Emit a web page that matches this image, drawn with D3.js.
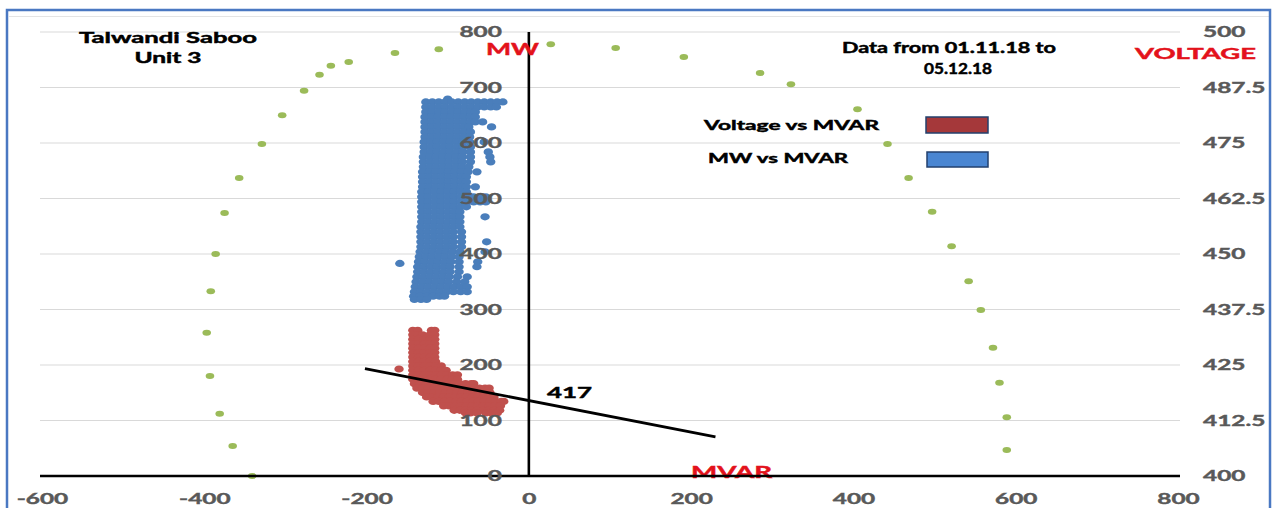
<!DOCTYPE html>
<html>
<head>
<meta charset="utf-8">
<script src="https://cdn.jsdelivr.net/npm/d3@7"></script>
<style>
  html, body { margin: 0; padding: 0; background: #ffffff; }
  svg { display: block; font-family: Lato, "Liberation Sans", sans-serif; }
</style>
</head>
<body>
<svg id="chart" width="1279" height="508"></svg>
<script>
// ---- axis ticks ----
const mvarTicks = [-600, -400, -200, 0, 200, 400, 600, 800];
const mwTicks = [0, 100, 200, 300, 400, 500, 600, 700, 800];
const voltTicks = [400, 412.5, 425, 437.5, 450, 462.5, 475, 487.5, 500];

// ---- generator capability limit (MVAR, MW) ----
const capabilityCurve = [
  [-111, 769], [-165, 762], [-222, 746], [-244, 739], [-258, 723], [-277, 694],
  [-304, 650], [-329, 598], [-357, 537], [-375, 474], [-386, 400], [-392, 333],
  [-397, 258], [-393, 180], [-381, 112], [-365, 54], [-341, 0],
  [27, 778], [107, 771], [191, 755], [285, 726], [323, 706], [405, 661],
  [442, 598], [468, 537], [497, 476], [521, 414], [542, 351], [557, 299],
  [572, 231], [580, 168], [589, 106], [589, 47]
];

// ---- MW vs MVAR samples, grouped by MW: [MW, [MVAR, ...]] ----
const mwVsMvarRows = [
  [679, [-100]],
  [674, [-127, -119, -111, -103, -95, -87, -79, -71, -63, -55, -47, -39, -32]],
  [665, [-127, -119, -111, -103, -95, -87, -79, -71, -63, -55, -47, -40]],
  [656, [-127, -119, -111, -103, -95, -87, -79, -71, -66]],
  [647, [-128, -120, -112, -104, -96, -88, -80, -72, -66]],
  [638, [-128, -120, -112, -104, -96, -88, -80, -72, -66, -57]],
  [629, [-128, -120, -112, -104, -96, -88, -80, -74, -46]],
  [620, [-128, -120, -112, -104, -96, -88, -80, -72]],
  [611, [-128, -120, -112, -104, -96, -88, -80, -73]],
  [602, [-129, -121, -113, -105, -97, -89, -81, -73, -55]],
  [593, [-129, -121, -113, -105, -97, -89, -81, -72]],
  [584, [-129, -121, -113, -105, -97, -89, -81, -72, -50]],
  [575, [-130, -122, -114, -106, -98, -90, -82, -72, -48]],
  [566, [-130, -122, -114, -106, -98, -90, -82, -72, -47]],
  [557, [-130, -122, -114, -106, -98, -90, -82, -74]],
  [548, [-131, -123, -115, -107, -99, -91, -83, -75, -64]],
  [539, [-131, -123, -115, -107, -99, -91, -83, -77]],
  [530, [-131, -123, -115, -107, -99, -91, -83, -77]],
  [521, [-131, -123, -115, -107, -99, -91, -83, -77, -66]],
  [512, [-132, -124, -116, -108, -100, -92, -84, -77]],
  [503, [-132, -124, -116, -108, -100, -92, -84, -76, -68, -60, -53]],
  [494, [-132, -124, -116, -108, -100, -92, -84, -76, -68, -60, -53]],
  [485, [-132, -124, -116, -108, -100, -92, -84, -77]],
  [476, [-132, -124, -116, -108, -100, -92, -85]],
  [467, [-132, -124, -116, -108, -100, -92, -85, -54]],
  [458, [-132, -124, -116, -108, -100, -92, -85]],
  [449, [-133, -125, -117, -109, -101, -93, -85]],
  [440, [-133, -125, -117, -109, -101, -93, -83]],
  [431, [-133, -125, -117, -109, -101, -93, -83]],
  [422, [-133, -125, -117, -109, -101, -93, -83, -52]],
  [413, [-133, -125, -117, -109, -101, -93, -83]],
  [404, [-134, -126, -118, -110, -102, -94, -85, -54]],
  [395, [-135, -127, -119, -111, -103, -95, -86]],
  [386, [-136, -128, -120, -112, -104, -96, -86, -63]],
  [383, [-159]],
  [377, [-137, -129, -121, -113, -105, -97, -86, -64]],
  [368, [-137, -129, -121, -113, -105, -97, -86]],
  [359, [-138, -130, -122, -114, -106, -98, -88, -76]],
  [350, [-139, -131, -123, -115, -107, -99, -89, -79]],
  [341, [-140, -132, -124, -116, -108, -100, -92, -84, -76]],
  [332, [-141, -133, -125, -117, -109, -101, -93, -84, -76]],
  [324, [-142, -134, -126, -118, -110, -104]],
  [318, [-141, -133, -126]]
];

// ---- Voltage vs MVAR samples, grouped by kV: [kV, [MVAR, ...]] ----
const voltVsMvarRows = [
  [432.8, [-143, -137, -120, -116]],
  [431.8, [-143, -137, -131, -122, -116]],
  [430.8, [-143, -136, -129, -122, -116]],
  [429.8, [-143, -136, -129, -122, -116]],
  [428.8, [-143, -136, -129, -122, -116]],
  [427.8, [-143, -136, -129, -122, -116]],
  [426.8, [-143, -136, -129, -122, -116]],
  [425.8, [-143, -136, -129, -122, -115]],
  [424.8, [-143, -136, -129, -122, -115, -108]],
  [424.1, [-160]],
  [423.8, [-143, -136, -129, -122, -115, -108, -102]],
  [422.8, [-143, -136, -129, -122, -115, -108, -101, -94, -88]],
  [421.8, [-143, -136, -129, -122, -115, -108, -101, -94, -88]],
  [420.8, [-141, -134, -127, -120, -113, -106, -99, -92, -85, -78, -71, -68]],
  [419.8, [-138, -131, -124, -117, -110, -103, -96, -89, -82, -75, -68, -61, -54, -49]],
  [418.8, [-131, -124, -117, -110, -103, -96, -89, -82, -75, -68, -61, -54, -48]],
  [417.8, [-126, -119, -112, -105, -98, -91, -84, -77, -70, -63, -56, -49, -43]],
  [416.8, [-118, -111, -104, -97, -90, -83, -76, -69, -62, -55, -48, -41, -34, -31]],
  [415.8, [-105, -98, -91, -84, -77, -70, -63, -56, -49, -42, -35]],
  [414.8, [-92, -85, -78, -71, -64, -57, -50, -43, -36]],
  [414.2, [-78, -72, -64, -53, -46, -39]]
];

// ---- trend of voltage against MVAR ----
const trendLine = [[-202, 424.2], [230, 408.8]];
const trendLabel = "417";

const W = 1279, H = 508;
const svg = d3.select("#chart");

const x = d3.scaleLinear().domain([-600, 800]).range([42, 1178]);
const yMW = d3.scaleLinear().domain([0, 800]).range([476, 32]);
const yV = d3.scaleLinear().domain([400, 500]).range([476, 32]);

const SX = 1.68; // horizontal stretch of the lettering
const GRAY = "#595959", RED_TXT = "#e3121b";

function widen(sel) {
  sel.each(function () {
    const w = this.getComputedTextLength();
    this.setAttribute("textLength", w * SX);
    this.setAttribute("lengthAdjust", "spacingAndGlyphs");
  });
}

// frame
svg.append("rect").attr("width", W).attr("height", H).attr("fill", "#ffffff");
svg.append("line").attr("x1", 9).attr("x2", 1269).attr("y1", 16.5).attr("y2", 16.5)
  .attr("stroke", "#e4e4e4").attr("stroke-width", 1);
svg.append("rect").attr("x", 7).attr("y", 10).attr("width", 1263).attr("height", 520)
  .attr("fill", "none").attr("stroke", "#4a78c2").attr("stroke-width", 2.5);

// horizontal gridlines
svg.append("g").selectAll("line").data(mwTicks.filter(d => d > 0)).join("line")
  .attr("x1", 40).attr("x2", 1180)
  .attr("y1", d => yMW(d)).attr("y2", d => yMW(d))
  .attr("stroke", "#d9d9d9").attr("stroke-width", 1.2);

// capability limit dots
svg.append("g").selectAll("ellipse").data(capabilityCurve).join("ellipse")
  .attr("cx", d => x(d[0])).attr("cy", d => yMW(d[1]))
  .attr("rx", 4.3).attr("ry", 3.0).attr("fill", "#9bbb59");

// MW vs MVAR
const mwPts = mwVsMvarRows.flatMap(([mw, qs]) => qs.map(q => [q, mw]));
svg.append("g").selectAll("ellipse").data(mwPts).join("ellipse")
  .attr("cx", d => x(d[0])).attr("cy", d => yMW(d[1]))
  .attr("rx", 4.7).attr("ry", 3.6).attr("fill", "#4a7ebb");

// Voltage vs MVAR
const vPts = voltVsMvarRows.flatMap(([kv, qs]) => qs.map(q => [q, kv]));
svg.append("g").selectAll("ellipse").data(vPts).join("ellipse")
  .attr("cx", d => x(d[0])).attr("cy", d => yV(d[1]))
  .attr("rx", 4.7).attr("ry", 3.6).attr("fill", "#c0504d");

// MVAR axis title sits under the axis line
const mvarTitle = svg.append("text").attr("x", 731.5).attr("y", 478)
  .attr("text-anchor", "middle").attr("font-size", 17).attr("font-weight", 700)
  .attr("fill", RED_TXT).attr("stroke", RED_TXT).attr("stroke-width", 0.45)
  .text("MVAR");

// axis lines
svg.append("line").attr("x1", 40).attr("x2", 1180)
  .attr("y1", yMW(0)).attr("y2", yMW(0)).attr("stroke", "#000").attr("stroke-width", 2.6);
svg.append("line").attr("x1", x(0)).attr("x2", x(0))
  .attr("y1", yMW(800)).attr("y2", yMW(0)).attr("stroke", "#000").attr("stroke-width", 2.6);

// trend line
svg.append("line")
  .attr("x1", x(trendLine[0][0])).attr("y1", yV(trendLine[0][1]))
  .attr("x2", x(trendLine[1][0])).attr("y2", yV(trendLine[1][1]))
  .attr("stroke", "#000").attr("stroke-width", 2.8);

// axes
function styleAxis(g) {
  g.select(".domain").remove();
  g.selectAll("text").attr("fill", GRAY).attr("stroke", GRAY).attr("stroke-width", 0.4)
    .attr("font-size", 14.5).attr("font-weight", 700)
    .attr("font-family", "Lato, 'Liberation Sans', sans-serif");
}
const gx = svg.append("g").attr("transform", `translate(0,${yMW(0)})`)
  .call(d3.axisBottom(x).tickValues(mvarTicks).tickSize(0).tickPadding(18).tickFormat(d => String(d)))
  .call(styleAxis);
const gy = svg.append("g").attr("transform", `translate(${x(0)},0)`)
  .call(d3.axisLeft(yMW).tickValues(mwTicks).tickSize(0).tickPadding(27).tickFormat(d => String(d)))
  .call(styleAxis);
const gv = svg.append("g").attr("transform", `translate(${x(800)},0)`)
  .call(d3.axisRight(yV).tickValues(voltTicks).tickSize(0).tickPadding(25)
    .tickFormat(d => (d % 1 ? d.toFixed(1) : String(d))))
  .call(styleAxis);
widen(gx.selectAll("text"));
widen(gy.selectAll("text"));
widen(gv.selectAll("text"));

// annotations
function label(txt, cx, y, size, width, color) {
  const c = color || "#000";
  return svg.append("text").attr("x", cx).attr("y", y).attr("text-anchor", "middle")
    .attr("font-size", size).attr("font-weight", 700).attr("fill", c)
    .attr("stroke", c).attr("stroke-width", 0.45)
    .attr("textLength", width).attr("lengthAdjust", "spacingAndGlyphs").text(txt);
}
mvarTitle.attr("textLength", 81).attr("lengthAdjust", "spacingAndGlyphs");
label("Talwandi Saboo", 168, 43, 15, 178);
label("Unit 3", 168, 63, 15, 67);
label("Data from 01.11.18 to", 949, 53, 14.5, 214);
label("05.12.18", 958, 74, 14.5, 68);
label("VOLTAGE", 1195.5, 59, 16, 121, RED_TXT);
label("MW", 512.5, 55, 17, 53, RED_TXT);
label(trendLabel, 569.5, 398, 16, 45);

// legend
label("Voltage vs MVAR", 791.5, 130, 13, 175);
label("MW vs MVAR", 778, 163, 13, 140);
svg.append("rect").attr("x", 926).attr("y", 117).attr("width", 62).attr("height", 16)
  .attr("fill", "#a5383a").attr("stroke", "#23406e").attr("stroke-width", 1.5);
svg.append("rect").attr("x", 927).attr("y", 152).attr("width", 61).attr("height", 15)
  .attr("fill", "#4a86d2").attr("stroke", "#23406e").attr("stroke-width", 1.5);
</script>
</body>
</html>
